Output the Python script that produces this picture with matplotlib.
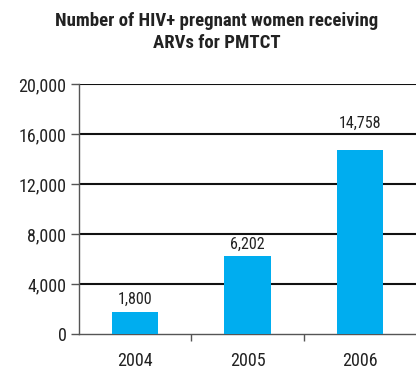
import matplotlib
matplotlib.use("Agg")
import matplotlib.pyplot as plt
from matplotlib import font_manager
from matplotlib.ticker import FuncFormatter, FixedLocator

names = {f.name for f in font_manager.fontManager.ttflist}
fam = ['Liberation Sans Narrow'] if 'Liberation Sans Narrow' in names else ['Roboto Condensed', 'Liberation Sans']
fam = [f for f in fam if f in names] + ['DejaVu Sans']
plt.rcParams['font.family'] = fam

years = ['2004', '2005', '2006']
values = [1800, 6202, 14758]
yticks = [0, 4000, 8000, 12000, 16000, 20000]
title = 'Number of HIV+ pregnant women receiving\nARVs for PMTCT'

fig = plt.figure(figsize=(4.16, 3.70), dpi=100)
ax = fig.add_axes([79/416, 1-334/370, (416-79)/416, 250/370])

x = range(len(years))
ax.bar(x, values, width=0.41, color='#00ADEF', zorder=3)
for xi, v in zip(x, values):
    ly = v + 350
    # keep the label clear of the next gridline
    nxt = min(t for t in yticks if t > v)
    if ly + 1100 > nxt - 100:
        ly = nxt + 250
    ax.text(xi, ly, f'{v:,}', ha='center', va='bottom', fontsize=11.5, color='#222222')

ax.set_xlim(-0.5, 2.5)
ax.set_ylim(0, 20000)
ax.yaxis.set_major_locator(FixedLocator(yticks))
ax.yaxis.set_major_formatter(FuncFormatter(lambda v, p: f'{int(v):,}'))
for t in yticks[1:]:
    ax.axhline(t, color='#111111', lw=1.5, zorder=1)

ax.set_xticks(list(x))
ax.set_xticklabels(years)
ax.xaxis.set_minor_locator(FixedLocator([0.5, 1.5]))
ax.tick_params(axis='x', which='major', length=0, pad=13, labelsize=13, labelcolor='#222222')
ax.tick_params(axis='x', which='minor', length=5, color='#555555', width=1)
ax.tick_params(axis='y', length=6, color='#555555', width=1, labelsize=13, labelcolor='#222222', pad=3)

for s in ['top', 'right']:
    ax.spines[s].set_visible(False)
for s in ['left', 'bottom']:
    ax.spines[s].set_color('#555555')
    ax.spines[s].set_linewidth(1)

fig.text(217/416, 1-32/370, title, ha='center', va='center', fontsize=13.5, fontweight='bold',
         color='#222222', linespacing=1.35)

fig.savefig('out.png', dpi=100)
